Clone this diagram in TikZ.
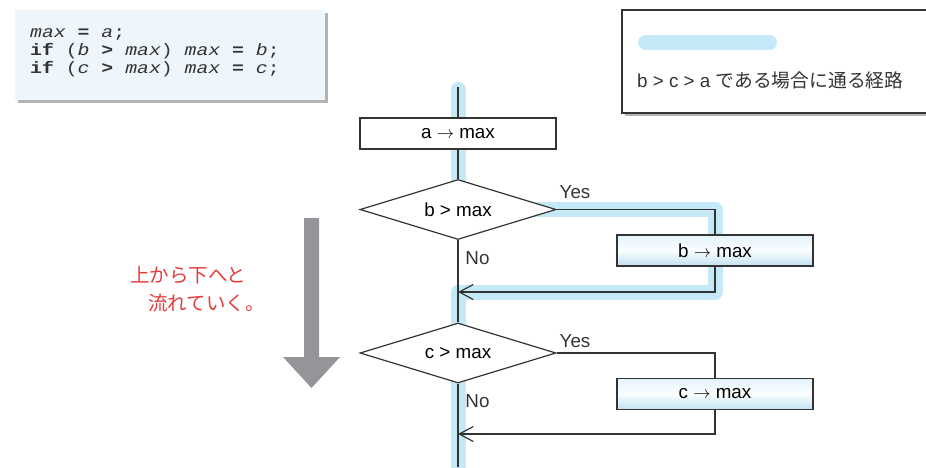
\documentclass[tikz,border=0pt]{standalone}
\usepackage{fontspec}
\setmainfont{Liberation Sans}
\newfontfamily\codefont[FakeStretch=1.2]{Liberation Mono}
\newfontfamily\jp{Noto Sans CJK JP}
\usetikzlibrary{shapes.geometric,arrows.meta}
\definecolor{hlblue}{HTML}{C6E9F8}
\definecolor{linegray}{HTML}{333333}
\definecolor{shadowgray}{HTML}{B3B3B3}
\definecolor{codebg}{HTML}{EEF5FB}
\definecolor{arrowgray}{HTML}{939598}
\definecolor{jred}{HTML}{E63B3B}
\definecolor{boxtop}{HTML}{E3F3FB}
\definecolor{boxbot}{HTML}{BFE2F3}
\tikzset{
  ln/.style={draw=linegray, line width=1.2pt},
  hl/.style={draw=hlblue, line width=15pt, line cap=round, line join=round},
  procbox/.style={ln, rectangle, minimum width=196pt, minimum height=31pt, inner sep=0pt, font=\fontsize{18.8}{21}\selectfont},
  whitebox/.style={procbox, fill=white},
  bluebox/.style={procbox, top color=boxtop, bottom color=boxbot, middle color=white!85!boxtop},
  decision/.style={ln, shape=diamond, fill=white, aspect=3.27, minimum width=196pt, minimum height=60pt, inner sep=0pt, font=\fontsize{18.8}{21}\selectfont},
  lbl/.style={font=\fontsize{18.8}{21}\selectfont, text=linegray, inner sep=0pt},
  codeln/.style={anchor=base west, inner sep=0pt, font=\codefont\fontsize{16.5}{18}\selectfont, text=linegray},
  redtxt/.style={anchor=west, inner sep=0pt, text=jred, font=\jp\fontsize{19.5}{21}\selectfont},
  barb/.style={-{Straight Barb[length=14pt,width=15pt]}},
}
\begin{document}
\begin{tikzpicture}[x=1pt,y=-1pt]
\useasboundingbox (0,0) rectangle (926,467);
% code box
\fill[shadowgray] (18,13) rectangle (328,103);
\fill[codebg] (15,10) rectangle (325,100);
\node[codeln] (c1) at (30,37) {\textit{max} \textbf{=} \textit{a};};
\node[codeln] (c2) at (30,55) {\textbf{if} (\textit{b} \textbf{>} \textit{max}) \textit{max} \textbf{=} \textit{b};};
\node[codeln] (c3) at (30,73) {\textbf{if} (\textit{c} \textbf{>} \textit{max}) \textit{max} \textbf{=} \textit{c};};
% legend
\fill[shadowgray] (625,13) rectangle (950,116);
\draw[ln, fill=white] (622,10) rectangle (950,113);
\draw[hl] (645.5,42.5) -- (769.5,42.5);
\node[lbl, anchor=west] (legtext) at (637,80) {b > c > a {\jp である場合に通る経路}};
% red text
\node[redtxt] (r1) at (130,275.5) {上から下へと};
\node[redtxt] (r2) at (148,303.5) {流れていく。};
% gray arrow
\fill[arrowgray] (304,218) -- (319,218) -- (319,357) -- (340,357) -- (311.5,388) -- (283,357) -- (304,357) -- cycle;
% coordinates
\coordinate (top) at (458,87);
\coordinate (hltop) at (458,89.5);
\coordinate (j1) at (458,292);
\coordinate (j2) at (458,434);
\coordinate (bot) at (458,467);
\coordinate (rb1) at (715,209.5);
\coordinate (rb2) at (715,292);
% highlight
\draw[hl] (hltop) -- (458,209.5) -- (rb1) -- (rb2) -- (j1) -- (458,475);
% nodes
\node[whitebox] (a) at (458,133.5) {a $\rightarrow$ max};
\node[decision] (dB) at (458,209.5) {b > max};
\node[bluebox] (bm) at (715,250.5) {b $\rightarrow$ max};
\node[decision] (dC) at (458,353) {c > max};
\node[bluebox] (cm) at (715,394) {c $\rightarrow$ max};
% connectors
\draw[ln] (top) -- (a.north);
\draw[ln] (a.south) -- (dB.north);
\draw[ln] (dB.east) -| (bm.north);
\draw[ln, barb] (bm.south) |- (j1);
\draw[ln] (dB.south) -- (dC.north);
\draw[ln] (dC.east) -| (cm.north);
\draw[ln, barb] (cm.south) |- (j2);
\draw[ln] (dC.south) -- (bot);
% labels
\node[lbl] (y1) at (575,192.5) {Yes};
\node[lbl] (n1) at (477.5,258) {No};
\node[lbl] (y2) at (575,341) {Yes};
\node[lbl] (n2) at (477.5,401) {No};
\end{tikzpicture}
\end{document}
